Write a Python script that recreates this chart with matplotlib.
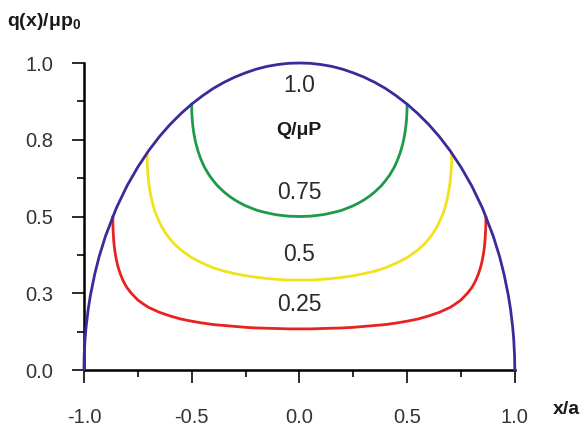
import matplotlib
matplotlib.use('Agg')
import matplotlib.pyplot as plt
from matplotlib.ticker import MultipleLocator, FixedLocator

plt.rcParams['font.family'] = ['Liberation Sans', 'DejaVu Sans']

# full slip: Hertz traction (Q/uP = 1.0)
x_full = [-1.0, -0.999, -0.995, -0.99, -0.98, -0.97, -0.95, -0.93, -0.9, -0.85, -0.8, -0.75,
          -0.7, -0.65, -0.6, -0.55, -0.5, -0.45, -0.4, -0.35, -0.3, -0.25, -0.2, -0.15, -0.1,
          -0.05, 0.0, 0.05, 0.1, 0.15, 0.2, 0.25, 0.3, 0.35, 0.4, 0.45, 0.5, 0.55, 0.6, 0.65,
          0.7, 0.75, 0.8, 0.85, 0.9, 0.93, 0.95, 0.97, 0.98, 0.99, 0.995, 0.999, 1.0]
q_full = [0.0, 0.045, 0.1, 0.141, 0.199, 0.243, 0.312, 0.368, 0.436, 0.527, 0.6, 0.661,
          0.714, 0.76, 0.8, 0.835, 0.866, 0.893, 0.917, 0.937, 0.954, 0.968, 0.98, 0.989, 0.995,
          0.999, 1.0, 0.999, 0.995, 0.989, 0.98, 0.968, 0.954, 0.937, 0.917, 0.893, 0.866, 0.835,
          0.8, 0.76, 0.714, 0.661, 0.6, 0.527, 0.436, 0.368, 0.312, 0.243, 0.199, 0.141, 0.1,
          0.045, 0.0]

# partial slip, Q/uP = 0.75
x_075 = [-0.5, -0.4995, -0.499, -0.497, -0.495, -0.49, -0.485, -0.48, -0.47, -0.46, -0.45,
         -0.44, -0.42, -0.4, -0.38, -0.35, -0.325, -0.3, -0.275, -0.25, -0.225, -0.2, -0.175,
         -0.15, -0.125, -0.1, -0.05, 0.0,
         0.05, 0.1, 0.125, 0.15, 0.175, 0.2, 0.225, 0.25, 0.275, 0.3, 0.325, 0.35, 0.38, 0.4,
         0.42, 0.44, 0.45, 0.46, 0.47, 0.48, 0.485, 0.49, 0.495, 0.497, 0.499, 0.4995, 0.5]
q_075 = [0.866, 0.844, 0.835, 0.813, 0.798, 0.772, 0.753, 0.737, 0.712, 0.692, 0.675,
         0.66, 0.636, 0.617, 0.6, 0.58, 0.566, 0.554, 0.544, 0.535, 0.528, 0.521, 0.516,
         0.512, 0.508, 0.505, 0.501, 0.5,
         0.501, 0.505, 0.508, 0.512, 0.516, 0.521, 0.528, 0.535, 0.544, 0.554, 0.566, 0.58, 0.6,
         0.617, 0.636, 0.66, 0.675, 0.692, 0.712, 0.737, 0.753, 0.772, 0.798, 0.813, 0.835,
         0.844, 0.866]

# partial slip, Q/uP = 0.5
x_05 = [-0.7071, -0.7065, -0.706, -0.703, -0.7, -0.695, -0.69, -0.685, -0.68, -0.67, -0.66,
        -0.64, -0.62, -0.6, -0.58, -0.55, -0.5, -0.45, -0.4, -0.35, -0.3, -0.25, -0.2, -0.15,
        -0.1, -0.05, 0.0,
        0.05, 0.1, 0.15, 0.2, 0.25, 0.3, 0.35, 0.4, 0.45, 0.5, 0.55, 0.58, 0.6, 0.62, 0.64,
        0.66, 0.67, 0.68, 0.685, 0.69, 0.695, 0.7, 0.703, 0.706, 0.7065, 0.7071]
q_05 = [0.707, 0.678, 0.669, 0.635, 0.614, 0.589, 0.569, 0.553, 0.539, 0.516, 0.498,
        0.468, 0.445, 0.426, 0.41, 0.391, 0.366, 0.348, 0.333, 0.322, 0.314, 0.307, 0.302,
        0.298, 0.295, 0.293, 0.293,
        0.293, 0.295, 0.298, 0.302, 0.307, 0.314, 0.322, 0.333, 0.348, 0.366, 0.391, 0.41,
        0.426, 0.445, 0.468, 0.498, 0.516, 0.539, 0.553, 0.569, 0.589, 0.614, 0.635, 0.669,
        0.678, 0.707]

# partial slip, Q/uP = 0.25
x_025 = [-0.866, -0.8655, -0.865, -0.862, -0.86, -0.858, -0.855, -0.85, -0.845, -0.84, -0.83,
         -0.82, -0.81, -0.8, -0.78, -0.75, -0.72, -0.7, -0.65, -0.6, -0.55, -0.5, -0.45, -0.4,
         -0.35, -0.3, -0.25, -0.2, -0.15, -0.1, -0.05, 0.0,
         0.05, 0.1, 0.15, 0.2, 0.25, 0.3, 0.35, 0.4, 0.45, 0.5, 0.55, 0.6, 0.65, 0.7, 0.72, 0.75,
         0.78, 0.8, 0.81, 0.82, 0.83, 0.84, 0.845, 0.85, 0.855, 0.858, 0.86, 0.862, 0.865,
         0.8655, 0.866]
q_025 = [0.5, 0.471, 0.46, 0.424, 0.408, 0.396, 0.381, 0.361, 0.345, 0.332, 0.311,
         0.294, 0.28, 0.268, 0.25, 0.228, 0.213, 0.204, 0.188, 0.176, 0.166, 0.159, 0.153, 0.148,
         0.145, 0.142, 0.139, 0.137, 0.136, 0.135, 0.134, 0.134,
         0.134, 0.135, 0.136, 0.137, 0.139, 0.142, 0.145, 0.148, 0.153, 0.159, 0.166, 0.176,
         0.188, 0.204, 0.213, 0.228, 0.25, 0.268, 0.28, 0.294, 0.311, 0.332, 0.345, 0.361,
         0.381, 0.396, 0.408, 0.424, 0.46, 0.471, 0.5]

curve_labels = ['1.0', '0.75', '0.5', '0.25']
label_y = [0.928, 0.578, 0.375, 0.212]

y_ticks = [0.0, 0.25, 0.5, 0.75, 1.0]
y_ticklabels = ['0.0', '0.3', '0.5', '0.8', '1.0']
x_ticks = [-1.0, -0.5, 0.0, 0.5, 1.0]
x_ticklabels = ['-1.0', '-0.5', '0.0', '0.5', '1.0']

fig = plt.figure(figsize=(5.87, 4.28), dpi=100)
ax = fig.add_axes([0.143, 0.1355, 0.734, 0.7173])

line_kw = dict(lw=2, clip_on=False, solid_joinstyle='round', solid_capstyle='round')
ax.plot(x_full, q_full, color='#3b2a9a', zorder=4, **line_kw)
ax.plot(x_075, q_075, color='#1f9a4a', zorder=3, **line_kw)
ax.plot(x_05, q_05, color='#f2e21c', zorder=3, **line_kw)
ax.plot(x_025, q_025, color='#e8231f', zorder=3, **line_kw)

for lab, yy in zip(curve_labels, label_y):
    ax.text(0.0, yy, lab, ha='center', va='center', fontsize=16.5, color='#2a2a2a')
ax.text(0.0, 0.78, 'Q/\u03bcP', ha='center', va='center', fontsize=14,
        fontweight='bold', color='#1a1a1a')

ax.set_xlim(-1, 1)
ax.set_ylim(0, 1)
ax.spines['top'].set_visible(False)
ax.spines['right'].set_visible(False)
ax.spines['left'].set_linewidth(1.8)
ax.spines['bottom'].set_linewidth(1.8)
ax.spines['bottom'].set_bounds(-1.0, 1.0)

ax.yaxis.set_major_locator(FixedLocator(y_ticks))
ax.set_yticklabels(y_ticklabels)
ax.yaxis.set_minor_locator(MultipleLocator(0.125))
ax.xaxis.set_major_locator(FixedLocator(x_ticks))
ax.set_xticklabels(x_ticklabels)
ax.xaxis.set_minor_locator(MultipleLocator(0.25))

ax.tick_params(axis='both', which='major', direction='out', length=9, width=1.3,
               labelsize=14.5, colors='#1a1a1a', labelcolor='#333333')
ax.tick_params(axis='both', which='minor', direction='out', length=5, width=1.3,
               colors='#1a1a1a')
ax.tick_params(axis='y', which='major', pad=13)
ax.tick_params(axis='x', which='major', pad=18)

fig.text(0.012, 0.95, 'q(x)/\u03bcp$_\\mathregular{0}$', fontsize=14, fontweight='bold',
         color='#1a1a1a', ha='left', va='center')
fig.text(0.965, 0.043, 'x/a', fontsize=14, fontweight='bold', color='#1a1a1a',
         ha='center', va='center')

fig.savefig('out.png', dpi=100)
